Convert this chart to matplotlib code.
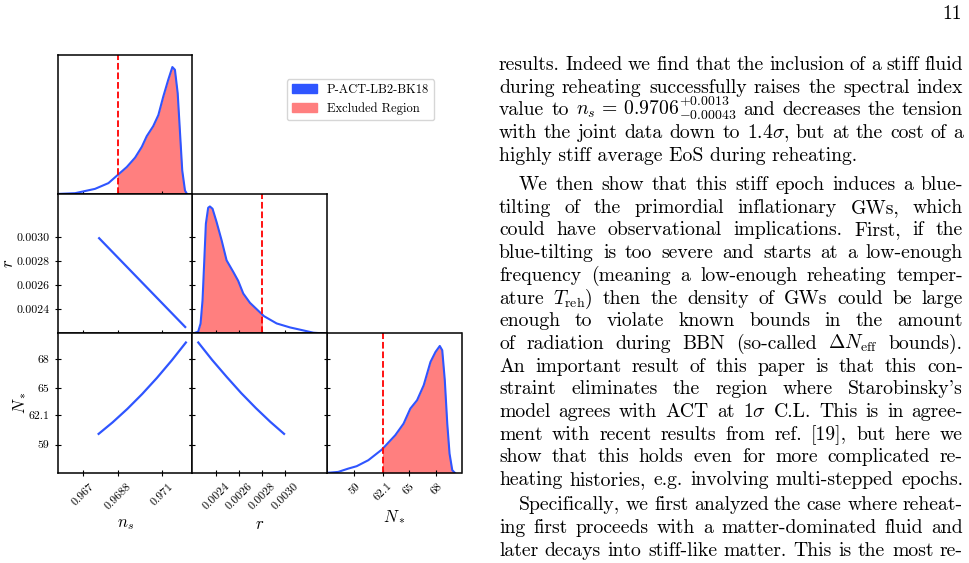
import matplotlib.pyplot as plt
from matplotlib.patches import Patch, Rectangle
from matplotlib.transforms import IdentityTransform

plt.rcParams['font.family'] = 'cmr10'
plt.rcParams['mathtext.fontset'] = 'cm'
plt.rcParams['axes.unicode_minus'] = False
plt.rcParams['axes.formatter.use_mathtext'] = True

# ---- data ----
# marginal of n_s (relative heights)
ns_grid = [0.96577, 0.96661, 0.96762, 0.9683, 0.9688, 0.96923, 0.96965, 0.96999,
           0.97024, 0.97057, 0.97083, 0.97108, 0.97133, 0.97154, 0.97167, 0.97181,
           0.97193, 0.97204, 0.97218, 0.97228]
ns_dens = [0, 0.7, 5, 10.7, 19.3, 26.7, 36, 46.7, 57.3, 67.3, 78.3, 96.7, 113.3,
           126, 123.3, 100, 60, 23.3, 3.3, 0]

# marginal of r
r_grid = [0.002203, 0.002246, 0.002267, 0.002284, 0.002298, 0.002313, 0.002333,
          0.002348, 0.002371, 0.002406, 0.00245, 0.002493, 0.002551, 0.002594,
          0.002638, 0.002696, 0.002818, 0.002928, 0.003044, 0.00316, 0.003247, 0.003334]
r_dens = [0, 1.7, 10, 33.3, 70, 110, 126, 127.3, 125, 111.7, 93.3, 73.3, 61.7,
          52.7, 40, 30.7, 17.3, 10, 6, 3, 0.7, 0]

# marginal of N_*
N_grid = [55.96, 57.24, 58.34, 59.26, 60.54, 62.02, 63.49, 64.4, 65.14, 65.88,
          66.61, 67.35, 67.9, 68.37, 68.64, 68.92, 69.19, 69.44, 69.74, 70.03]
N_dens = [0, 1, 4.3, 6.7, 12.7, 23.3, 37.7, 49.3, 64.3, 72.7, 87.7, 111, 121, 127,
          122.7, 92.7, 49.3, 19.3, 2.7, 0]

# 2D panels (thin degenerate bands)
ns_r_x = [0.96779, 0.97001, 0.97223]
ns_r_y = [0.0030, 0.002621, 0.002242]
ns_N_x = [0.96776, 0.96851, 0.96926, 0.97001, 0.97076, 0.97151, 0.97226]
ns_N_y = [60.05, 61.34, 62.77, 64.34, 66.05, 67.9, 69.88]
r_N_x = [0.002241, 0.002367, 0.002494, 0.00262, 0.002747, 0.002873, 0.0030]
r_N_y = [69.88, 67.95, 66.15, 64.44, 62.86, 61.4, 60.05]

ns_cut, r_cut, N_cut = 0.9688, 0.0028, 62.1

ns_ticks = [0.967, 0.9688, 0.971]
ns_labels = ['0.967', '0.9688', '0.971']
r_ticks = [0.0024, 0.0026, 0.0028, 0.0030]
r_labels = ['0.0024', '0.0026', '0.0028', '0.0030']
N_ticks = [59, 62.1, 65, 68]
N_labels = ['59', '62.1', '65', '68']

ns_lim = (0.96573, 0.97255)
r_lim = (0.002195, 0.003365)
N_lim = (56.0, 70.75)

blue = '#2f55ff'
salmon = '#ff7f7f'

W, H = 970, 563
fig = plt.figure(figsize=(W / 100, H / 100), dpi=100)

xe = [57.7, 192.3, 326.9, 461.5]
ye = [54.5, 193.9, 333.4, 472.9]


def panel(i, j):
    return fig.add_axes([xe[j] / W, 1 - ye[i + 1] / H,
                         (xe[j + 1] - xe[j]) / W, (ye[i + 1] - ye[i]) / H])


def style(ax):
    for s in ax.spines.values():
        s.set_linewidth(1.1)
    ax.tick_params(direction='inout', length=5, width=0.8, labelsize=8.5)


params = [(ns_grid, ns_dens, ns_lim, ns_ticks, ns_labels, ns_cut, 'right', '$n_s$'),
          (r_grid, r_dens, r_lim, r_ticks, r_labels, r_cut, 'left', '$r$'),
          (N_grid, N_dens, N_lim, N_ticks, N_labels, N_cut, 'right', '$N_*$')]
# where the y labels sit, left of the first column (axes fraction)
ylabel_x = {1: -0.31, 2: -0.22}

# diagonal: marginals
for k, (g, d, lim, ticks, labels, cut, side, name) in enumerate(params):
    ax = panel(k, k)
    style(ax)
    fill = ax.fill_between(g, d, color=salmon, lw=0)
    if side == 'right':
        clip = Rectangle((cut, 0), 1e3, 1e3, transform=ax.transData)
    else:
        clip = Rectangle((cut - 1, 0), 1, 1e3, transform=ax.transData)
    fill.set_clip_path(clip)
    ax.plot(g, d, color=blue, lw=1.5)
    ax.axvline(cut, color='red', ls='--', lw=1.3)
    ax.set_xlim(lim)
    ax.set_ylim(0, max(d) / 0.91)
    ax.set_yticks([])
    ax.set_xticks(ticks)
    if k == 2:
        ax.set_xticklabels(labels, rotation=45)
        ax.set_xlabel(name, fontsize=12)
    else:
        ax.set_xticklabels([])

# off-diagonal panels
pairs = [(1, 0, ns_r_x, ns_r_y), (2, 0, ns_N_x, ns_N_y), (2, 1, r_N_x, r_N_y)]
for i, j, xs, ys in pairs:
    ax = panel(i, j)
    style(ax)
    ax.plot(xs, ys, color=blue, lw=1.6, solid_capstyle='butt')
    ax.set_xlim(params[j][2])
    ax.set_ylim(params[i][2])
    ax.set_xticks(params[j][3])
    ax.set_yticks(params[i][3])
    ax.tick_params(right=True)
    if i == 2:
        ax.set_xticklabels(params[j][4], rotation=45)
        ax.set_xlabel(params[j][7], fontsize=12)
    else:
        ax.set_xticklabels([])
    if j == 0:
        ax.set_yticklabels(params[i][4])
        ax.set_ylabel(params[i][7], fontsize=12)
        ax.yaxis.set_label_coords(ylabel_x[i], 0.5)
    else:
        ax.set_yticklabels([])

fig.legend(handles=[Patch(color=blue, label='P-ACT-LB2-BK18'),
                    Patch(color=salmon, label='Excluded Region')],
           loc='upper left', bbox_to_anchor=(287 / W, 1 - 79 / H),
           borderaxespad=0, fontsize=9)

# ---- the text column ----
fs = 14.2
col_x0, col_x1 = 499, 963
renderer = fig.canvas.get_renderer()

para1 = ["results. Indeed we find that the inclusion of a stiff fluid",
         "during reheating successfully raises the spectral index",
         r"value to $n_s\,=\,0.9706^{+0.0013}_{-0.00043}$ and decreases the tension",
         r"with the joint data down to $1.4\sigma$, but at the cost of a",
         "highly stiff average EoS during reheating."]
para2 = ["We then show that this stiff epoch induces a blue-",
         "tilting of the primordial inflationary GWs, which",
         "could have observational implications. First, if the",
         "blue-tilting is too severe and starts at a low-enough",
         "frequency (meaning a low-enough reheating temper-",
         r"ature $T_{\mathrm{reh}}$) then the density of GWs could be large",
         "enough to violate known bounds in the amount",
         r"of radiation during BBN (so-called $\Delta{}N_{\mathrm{eff}}$ bounds).",
         "An important result of this paper is that this con-",
         "straint eliminates the region where Starobinsky's",
         r"model agrees with ACT at $1\sigma$ C.L. This is in agree-",
         "ment with recent results from ref. [19], but here we",
         "show that this holds even for more complicated re-",
         "heating histories, e.g. involving multi-stepped epochs."]
para3 = ["Specifically, we first analyzed the case where reheat-",
         "ing first proceeds with a matter-dominated fluid and",
         "later decays into stiff-like matter. This is the most re-"]


def put_line(s, y, indent=0, justify=True):
    x0 = col_x0 + indent
    if not justify:
        fig.text(x0, H - y, s, fontsize=fs, va='baseline', transform=IdentityTransform())
        return
    words = s.split(' ')
    objs = [fig.text(0, H - y, w, fontsize=fs, va='baseline',
                     transform=IdentityTransform()) for w in words]
    widths = [t.get_window_extent(renderer).width for t in objs]
    gap = (col_x1 - x0 - sum(widths)) / (len(words) - 1)
    x = x0
    for t, w in zip(objs, widths):
        t.set_x(x)
        x += w + gap


lead = 22.7
for n, s in enumerate(para1):
    put_line(s, 70 + n * lead, justify=(n < len(para1) - 1))
for n, s in enumerate(para2):
    put_line(s, 190 + n * lead, indent=20 if n == 0 else 0)
for n, s in enumerate(para3):
    put_line(s, 510.5 + n * lead, indent=20 if n == 0 else 0)

fig.text(962, H - 19, '11', fontsize=fs, ha='right', va='baseline',
         transform=IdentityTransform())

fig.savefig('out.png', dpi=100)
